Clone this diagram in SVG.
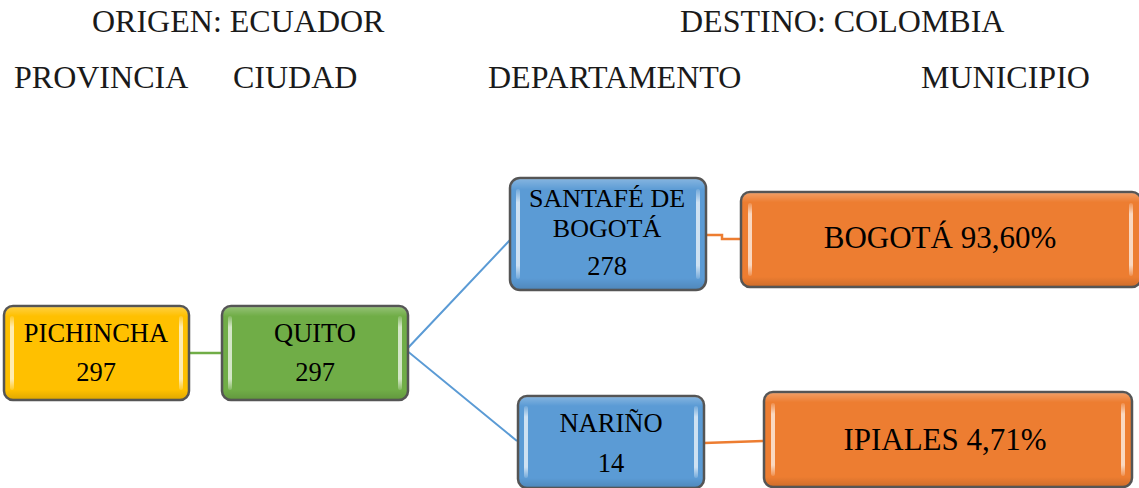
<svg xmlns="http://www.w3.org/2000/svg" width="1139" height="488" viewBox="0 0 1139 488">
<style>
  .hdr { font-family: "Liberation Serif", "Times New Roman", serif; font-size: 32px; fill: #1a1a1a; }
  .lbl { font-family: "Liberation Serif", "Times New Roman", serif; font-size: 26.5px; fill: #000; text-anchor: middle; }
  .sm { font-size: 26px; }
  .big { font-family: "Liberation Serif", "Times New Roman", serif; font-size: 31px; fill: #000; text-anchor: middle; }
  .box { stroke: #555; stroke-width: 2.5; }
  .hl { fill: url(#strip); }
  .shade { fill: url(#vshade); }
  .yellow { fill: #FFC000; }
  .green { fill: #70AD47; }
  .blue { fill: #5B9BD5; }
  .orange { fill: #ED7D31; }
</style>
<defs>
  <linearGradient id="strip" x1="0" y1="0" x2="0" y2="1">
    <stop offset="0" stop-color="#fff" stop-opacity="0.15"/>
    <stop offset="0.15" stop-color="#fff" stop-opacity="0.7"/>
    <stop offset="0.85" stop-color="#fff" stop-opacity="0.7"/>
    <stop offset="1" stop-color="#fff" stop-opacity="0.15"/>
  </linearGradient>
  <linearGradient id="vshade" x1="0" y1="0" x2="0" y2="1">
    <stop offset="0" stop-color="#fff" stop-opacity="0.25"/>
    <stop offset="0.1" stop-color="#fff" stop-opacity="0"/>
    <stop offset="0.9" stop-color="#000" stop-opacity="0"/>
    <stop offset="1" stop-color="#000" stop-opacity="0.12"/>
  </linearGradient>
</defs>
<rect width="1139" height="488" fill="#fff"/>

<g id="headers">
  <text class="hdr" x="92" y="32">ORIGEN: ECUADOR</text>
  <text class="hdr" x="680" y="32">DESTINO: COLOMBIA</text>
  <text class="hdr" x="14" y="88">PROVINCIA</text>
  <text class="hdr" x="233" y="88">CIUDAD</text>
  <text class="hdr" x="488" y="88">DEPARTAMENTO</text>
  <text class="hdr" x="921" y="88">MUNICIPIO</text>
</g>

<g id="connectors" fill="none">
  <line x1="189" y1="353" x2="221" y2="353" stroke="#70AD47" stroke-width="2.5"/>
  <polyline points="510,240 406,350 517,441" stroke="#5B9BD5" stroke-width="2"/>
  <polyline points="706,235 722,235 722,239 740,239" stroke="#ED7D31" stroke-width="2.5"/>
  <line x1="704" y1="443" x2="763" y2="441" stroke="#ED7D31" stroke-width="2.5"/>
</g>

<g id="pichincha">
  <rect class="box yellow" x="4" y="306" width="185" height="94" rx="9"/>
  <rect class="shade" x="5" y="307" width="183" height="92" rx="8"/>
  <rect class="hl" x="10" y="316" width="4" height="74" rx="2"/>
  <rect class="hl" x="179" y="316" width="4" height="74" rx="2"/>
  <text class="lbl" x="96" y="342">PICHINCHA</text>
  <text class="lbl" x="96" y="381">297</text>
</g>

<g id="quito">
  <rect class="box green" x="222" y="306" width="186" height="94" rx="9"/>
  <rect class="shade" x="223" y="307" width="184" height="92" rx="8"/>
  <rect class="hl" x="228" y="316" width="4" height="74" rx="2"/>
  <rect class="hl" x="398" y="316" width="4" height="74" rx="2"/>
  <text class="lbl" x="315" y="342">QUITO</text>
  <text class="lbl" x="315" y="381">297</text>
</g>

<g id="santafe">
  <rect class="box blue" x="510" y="178" width="196" height="112" rx="10"/>
  <rect class="shade" x="511" y="179" width="194" height="110" rx="9"/>
  <rect class="hl" x="516" y="189" width="4" height="90" rx="2"/>
  <rect class="hl" x="696" y="189" width="4" height="90" rx="2"/>
  <text class="lbl sm" x="607" y="207">SANTAFÉ DE<tspan x="607" dy="30">BOGOTÁ</tspan></text>
  <text class="lbl" x="607" y="275">278</text>
</g>

<g id="narino">
  <rect class="box blue" x="518" y="396" width="186" height="92" rx="9"/>
  <rect class="shade" x="519" y="397" width="184" height="90" rx="8"/>
  <rect class="hl" x="524" y="406" width="4" height="72" rx="2"/>
  <rect class="hl" x="694" y="406" width="4" height="72" rx="2"/>
  <text class="lbl" x="611" y="432">NARIÑO</text>
  <text class="lbl" x="611" y="472">14</text>
</g>

<g id="bogota">
  <rect class="box orange" x="741" y="192" width="400" height="95" rx="9"/>
  <rect class="shade" x="742" y="193" width="398" height="93" rx="8"/>
  <rect class="hl" x="748" y="203" width="4" height="73" rx="2"/>
  <rect class="hl" x="1129" y="203" width="4" height="73" rx="2"/>
  <text class="big" x="940" y="248">BOGOTÁ 93,60%</text>
</g>

<g id="ipiales">
  <rect class="box orange" x="764" y="392" width="368" height="95" rx="9"/>
  <rect class="shade" x="765" y="393" width="366" height="93" rx="8"/>
  <rect class="hl" x="771" y="403" width="4" height="73" rx="2"/>
  <rect class="hl" x="1121" y="403" width="4" height="73" rx="2"/>
  <text class="big" x="945" y="450">IPIALES 4,71%</text>
</g>
</svg>
